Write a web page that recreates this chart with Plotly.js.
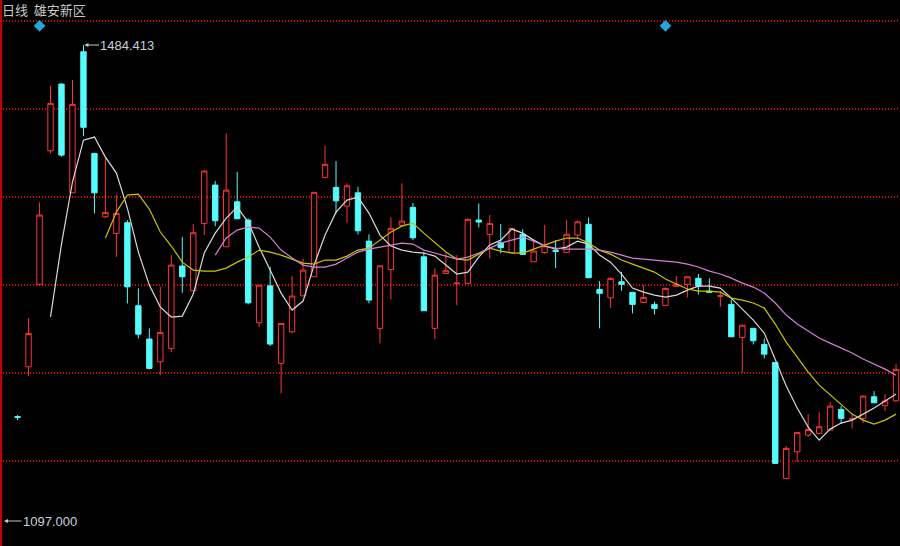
<!DOCTYPE html>
<html>
<head>
<meta charset="utf-8">
<script src="https://cdn.plot.ly/plotly-3.0.1.min.js"></script>
<style>html,body{margin:0;padding:0;background:#000;}#chart{width:900px;height:546px;}</style>
</head>
<body>
<div id="chart"></div>
<script>
// Daily candles (index order), prices
var openP = [1182.0,1222.5,1289.6,1398.3,1452.6,1364.1,1478.9,1396.2,1344.6,1331.1,
1339.7,1272.2,1245.1,1226.6,1237.5,1304.5,1284.4,1339.2,1370.4,1320.2,
1356.8,1341.9,1258.3,1288.4,1225.3,1251.0,1280.3,1295.8,1376.7,1368.5,
1353.3,1364.1,1324.8,1253.8,1301.8,1337.6,1352.3,1312.0,1253.8,1298.5,
1290.2,1290.4,1341.9,1330.3,1323.6,1315.5,1330.4,1308.0,1315.5,1317.3,
1315.6,1329.7,1338.5,1285.5,1278.7,1291.7,1283.1,1274.9,1273.3,1272.5,
1288.0,1289.6,1294.5,1284.1,1279.9,1273.3,1246.4,1253.8,1240.7,1226.1,
1131.7,1153.3,1166.9,1168.3,1171.0,1187.8,1179.7,1180.5,1198.1,1190.8,
1194.8];
var highP = [1183.2,1262.1,1356.3,1451.0,1453.2,1455.9,1484.413,1396.2,1393.4,1362.3,
1341.9,1286.3,1253.8,1287.6,1313.4,1328.3,1338.7,1382.6,1373.7,1412.5,
1381.2,1343.3,1289.0,1303.9,1257.8,1296.3,1310.7,1364.5,1402.2,1389.9,
1371.8,1369.0,1330.3,1304.7,1344.1,1371.8,1356.0,1316.1,1302.6,1314.8,
1313.4,1343.3,1355.5,1346.0,1338.7,1335.2,1334.4,1325.6,1337.8,1325.6,
1341.9,1341.7,1344.1,1292.3,1295.3,1299.8,1283.1,1289.0,1275.4,1287.1,
1296.3,1295.8,1298.0,1294.5,1284.4,1277.4,1256.4,1253.8,1245.6,1226.1,
1158.0,1169.1,1184.0,1185.4,1194.0,1190.5,1184.6,1199.5,1202.7,1200.3,
1224.7];
var lowP = [1179.1,1214.9,1289.0,1396.2,1393.4,1364.1,1410.3,1347.4,1343.5,1312.0,
1274.1,1245.6,1220.4,1215.7,1234.7,1282.7,1284.4,1329.7,1337.0,1320.2,
1343.0,1273.3,1255.1,1239.4,1200.9,1249.7,1280.3,1295.8,1376.7,1347.4,
1339.7,1330.3,1274.1,1241.6,1277.4,1337.6,1325.6,1268.1,1245.1,1298.5,
1272.7,1290.4,1336.0,1310.7,1314.8,1315.5,1314.0,1308.0,1314.4,1302.8,
1315.6,1326.9,1295.0,1253.8,1270.5,1284.4,1266.0,1274.9,1265.2,1272.5,
1288.0,1279.0,1281.4,1283.1,1271.3,1246.9,1217.6,1240.7,1229.3,1143.9,
1130.9,1145.2,1165.5,1168.3,1171.0,1175.9,1172.4,1176.9,1193.2,1186.7,
1194.0];
var closeP = [1181.4,1249.7,1346.0,1436.9,1394.8,1436.1,1417.4,1364.1,1348.2,1347.4,
1287.6,1249.1,1221.2,1250.5,1305.3,1295.8,1331.6,1381.8,1341.4,1366.3,
1343.0,1274.6,1289.0,1241.0,1257.8,1280.1,1301.2,1364.5,1387.3,1357.6,
1369.8,1333.2,1276.8,1304.7,1335.2,1341.1,1327.5,1268.1,1297.1,1300.7,
1290.6,1342.5,1340.3,1339.2,1319.5,1335.2,1314.0,1316.7,1320.9,1316.4,
1330.4,1340.5,1295.0,1282.3,1294.5,1289.6,1273.3,1279.0,1270.0,1286.3,
1289.6,1295.8,1288.2,1283.1,1280.3,1246.9,1256.4,1243.7,1232.8,1143.9,
1156.1,1169.1,1171.5,1173.7,1190.5,1180.5,1180.1,1198.7,1193.2,1194.8,
1220.4];
// Moving averages
var ma5 = [null,null,null,1263.2,1322.4,1372.9,1407.0,1409.5,1393.2,1380.2,
1351.7,1315.9,1289.0,1271.1,1263.0,1263.8,1281.7,1315.1,1331.3,1343.5,
1352.5,1340.3,1319.9,1301.2,1282.5,1268.7,1276.0,1305.3,1329.7,1348.4,
1358.2,1360.6,1347.6,1329.7,1320.8,1317.5,1315.9,1315.1,1312.6,1305.3,
1298.0,1299.6,1311.8,1321.6,1325.6,1334.6,1331.3,1325.6,1320.8,1318.3,
1319.9,1324.8,1322.4,1313.4,1307.7,1298.0,1286.6,1283.3,1280.9,1279.2,
1280.9,1284.9,1288.2,1288.2,1286.6,1278.4,1269.5,1260.5,1249.9,1228.0,
1206.8,1188.9,1173.4,1162.8,1171.8,1176.7,1179.1,1184.0,1188.9,1194.6,
1200.3];
var ma10 = [null,null,null,null,null,null,null,null,1327.3,1348.4,
1362.3,1363.1,1350.9,1332.2,1320.8,1307.7,1301.2,1300.4,1300.4,1302.8,
1307.7,1311.8,1317.5,1315.9,1313.4,1310.2,1306.9,1306.1,1309.4,1309.4,
1312.6,1317.5,1319.1,1325.6,1332.2,1337.0,1339.5,1331.3,1323.2,1315.9,
1310.2,1309.4,1314.2,1319.1,1316.7,1315.1,1315.1,1318.3,1321.6,1324.8,
1327.3,1327.3,1323.2,1317.5,1314.2,1309.4,1306.1,1302.8,1299.6,1293.9,
1289.8,1285.8,1284.1,1284.1,1283.3,1278.4,1276.8,1274.4,1270.3,1257.3,
1242.6,1230.4,1218.2,1207.6,1199.5,1191.3,1184.0,1179.1,1175.9,1179.1,
1184.0];
var ma20 = [null,null,null,null,null,null,null,null,null,null,
null,null,null,null,null,null,null,null,1313.4,1327.3,
1333.8,1336.2,1335.4,1328.1,1317.5,1311.0,1305.3,1303.7,1303.7,1306.1,
1311.0,1315.9,1318.3,1319.9,1321.6,1323.2,1322.4,1317.5,1315.1,1312.6,
1310.2,1311.8,1315.1,1319.1,1323.2,1325.6,1328.1,1324.8,1320.8,1319.1,
1318.3,1318.3,1318.3,1317.5,1315.9,1313.4,1311.0,1310.2,1309.4,1308.5,
1307.7,1306.1,1303.7,1300.4,1298.0,1294.7,1290.6,1287.4,1282.5,1274.4,
1264.6,1257.3,1251.6,1245.9,1241.8,1237.7,1233.7,1228.8,1224.7,1220.6,
1215.7];
// Event markers (candle index) and labels
var eventIdx = [2, 59];
var eventLevel = 1500;
var maxPrice = 1484.413, maxIdx = 6;
var minPrice = 1097.000;
var gridLevels = [1503.95, 1432.33, 1360.70, 1289.08, 1217.46, 1145.84];
var titleName = '日线  雄安新区';

var idx = openP.map(function(_, i){ return i; });
var RED = '#ff3434', CYAN = '#54fcfc';

var traces = [
  {type:'candlestick', x: idx, open: openP, high: highP, low: lowP, close: closeP,
   increasing:{line:{color:RED, width:1}, fillcolor:'#000000'},
   decreasing:{line:{color:CYAN, width:1}, fillcolor:CYAN},
   whiskerwidth:0, hoverinfo:'skip', showlegend:false},
  {type:'scatter', mode:'lines', x: idx, y: ma5, line:{color:'#d8d8d8', width:1.2}, hoverinfo:'skip', showlegend:false},
  {type:'scatter', mode:'lines', x: idx, y: ma10, line:{color:'#c8c400', width:1.2}, hoverinfo:'skip', showlegend:false},
  {type:'scatter', mode:'lines', x: idx, y: ma20, line:{color:'#d47fd4', width:1.2}, hoverinfo:'skip', showlegend:false},
  {type:'scatter', mode:'markers', x: eventIdx, y: eventIdx.map(function(){return eventLevel;}),
   marker:{symbol:'diamond', size:9, color:'#22a6dc'}, hoverinfo:'skip', showlegend:false}
];

var layout = {
  width: 900, height: 546,
  margin: {l:0, r:0, t:0, b:0},
  paper_bgcolor: '#000000', plot_bgcolor: '#000000',
  showlegend: false,
  xaxis: {range:[-1.6, 80.36], showgrid:false, zeroline:false, showticklabels:false, ticks:'', rangeslider:{visible:false}, fixedrange:true},
  yaxis: {range:[1076.66, 1521.04], tickvals: gridLevels, showticklabels:false, ticks:'', showgrid:true,
          gridcolor:'#e00000', griddash:'1px,2px', gridwidth:1.2, zeroline:false, fixedrange:true},
  shapes: [
    {type:'line', xref:'paper', yref:'paper', x0:0.0012, x1:0.0012, y0:0, y1:1, line:{color:'#c80000', width:2}}
  ],
  annotations: [
    {xref:'paper', yref:'paper', x:0.0, y:1-9.5/546, xanchor:'left', yanchor:'middle', showarrow:false,
     text: titleName, font:{family:'Noto Sans CJK SC, sans-serif', size:13, color:'#c8c8c8'}},
    {x: maxIdx, y: maxPrice, xref:'x', yref:'y', text: maxPrice.toFixed(3), showarrow:true,
     ax: 44, ay: 0, arrowhead:2, arrowsize:0.8, arrowwidth:1, arrowcolor:'#c8c8c8', standoff:1,
     font:{family:'Liberation Sans, Arial, sans-serif', size:13, color:'#c8d0dc'}},
    {xref:'paper', yref:'y', x: 3/900, y: minPrice, text: minPrice.toFixed(3), showarrow:true,
     ax: 47, ay: 0, arrowhead:2, arrowsize:0.8, arrowwidth:1, arrowcolor:'#c8c8c8', standoff:1,
     font:{family:'Liberation Sans, Arial, sans-serif', size:13, color:'#c8d0dc'}}
  ]
};

Plotly.newPlot('chart', traces, layout, {staticPlot:true, displayModeBar:false});
</script>
</body>
</html>
